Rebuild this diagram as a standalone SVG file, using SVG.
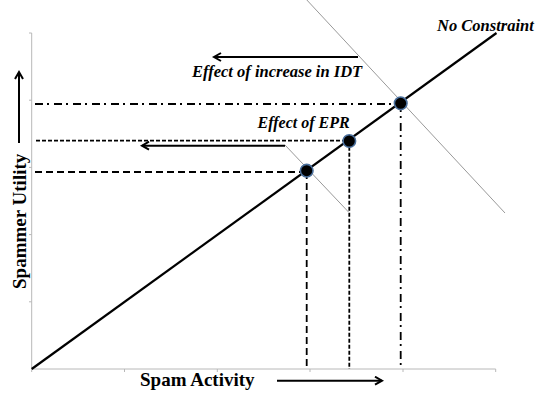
<svg xmlns="http://www.w3.org/2000/svg" width="541" height="395" viewBox="0 0 541 395">
<defs>
<marker id="chev" markerUnits="userSpaceOnUse" markerWidth="12" markerHeight="12" refX="8" refY="5" orient="auto">
<path d="M1,1 L8,5 L1,9" fill="none" stroke="#000" stroke-width="2"/>
</marker>
</defs>
<style>
.axis{stroke:#b8b8b8;stroke-width:1;fill:none}
.gray{stroke:#999;stroke-width:1;fill:none}
.main{stroke:#000;stroke-width:2.2;fill:none}
.dd{stroke:#000;stroke-width:1.8;fill:none;stroke-dasharray:8 4 2 5}
.sd{stroke:#000;stroke-width:1.8;fill:none;stroke-dasharray:4 2}
.ld{stroke:#000;stroke-width:1.8;fill:none;stroke-dasharray:7 4}
.arr{stroke:#000;stroke-width:2;fill:none;marker-end:url(#chev)}
.pt{fill:#000;stroke:#4a6f9c;stroke-width:1.6}
.lbl{font-family:"Liberation Serif","Times New Roman",serif;font-weight:bold;font-size:19px;fill:#000}
.it{font-family:"Liberation Serif","Times New Roman",serif;font-weight:bold;font-style:italic;font-size:16.5px;fill:#000}
</style>
<g id="axes">
<path class="axis" d="M31.7,33 V369 H495.7"/>
<path class="axis" d="M29,33H31.7M29,100.2H31.7M29,167.4H31.7M29,234.6H31.7M29,301.8H31.7"/>
<path class="axis" d="M31.7,369V372M124.5,369V372M217.3,369V372M310,369V372M403,369V372M495.7,369V372"/>
</g>
<g id="connectors">
<line class="gray" x1="305" y1="-2" x2="505" y2="213"/>
<line class="gray" x1="285" y1="145" x2="348.5" y2="212"/>
<path class="dd" d="M35,104 H400.7"/>
<path class="dd" d="M400.7,104 V369"/>
<path class="sd" d="M36,140.7 H349.3"/>
<path class="sd" d="M349.3,140.7 V369"/>
<path class="ld" d="M35,172 H306.7"/>
<path class="ld" d="M306.7,172 V369"/>
<line class="main" x1="31.7" y1="369" x2="496.5" y2="33"/>
<line class="arr" x1="358" y1="57" x2="214" y2="57"/>
<line class="arr" x1="285" y1="145.7" x2="142" y2="145.7"/>
<line class="arr" x1="277" y1="380.7" x2="382" y2="380.7"/>
<line class="arr" x1="19" y1="143" x2="19" y2="72"/>
</g>
<g id="p-noconstraint"><circle class="pt" cx="400.7" cy="103.3" r="6.3"/></g>
<g id="p-epr"><circle class="pt" cx="349.3" cy="141" r="6.3"/></g>
<g id="p-idt"><circle class="pt" cx="306.7" cy="170.7" r="6.3"/></g>
<g id="labels">
<text class="it" x="437" y="30.5">No Constraint</text>
<text class="it" x="192" y="76.5">Effect of increase in IDT</text>
<text class="it" x="257.5" y="127.5" style="font-size:16px">Effect of EPR</text>
<text class="lbl" x="140" y="386">Spam Activity</text>
<text class="lbl" transform="translate(26,289) rotate(-90)">Spammer Utility</text>
</g>
</svg>
